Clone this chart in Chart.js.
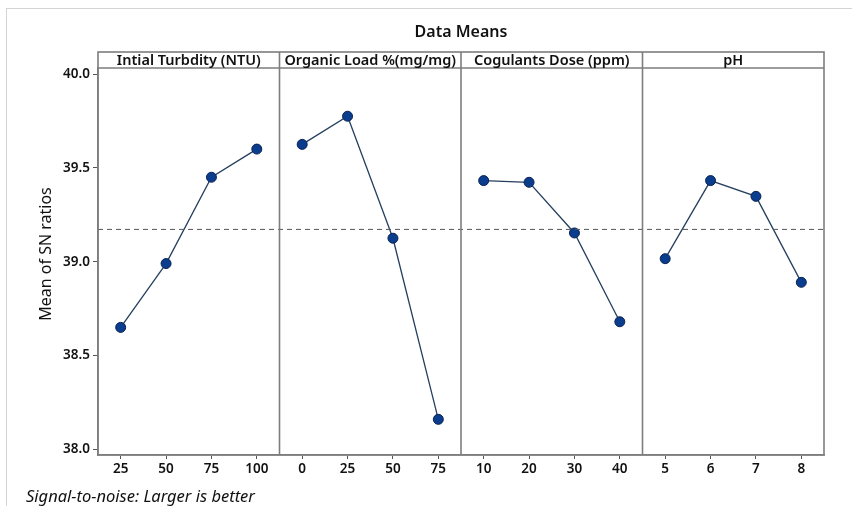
<!DOCTYPE html>
<html>
<head>
<meta charset="utf-8">
<script src="https://cdn.jsdelivr.net/npm/chart.js@4.4.0/dist/chart.umd.min.js"></script>
<style>
  html, body { margin: 0; padding: 0; background: #fff; }
  #wrap { position: relative; width: 852px; height: 506px; }
</style>
</head>
<body>
<div id="wrap"><canvas id="meansChart" width="852" height="506"></canvas></div>
<script>
// factor names and their levels
var factorNames = ['Intial Turbdity (NTU)', 'Organic Load %(mg/mg)', 'Cogulants Dose (ppm)', 'pH'];
var turbidityLevels = ['25', '50', '75', '100'];
var organicLevels = ['0', '25', '50', '75'];
var doseLevels = ['10', '20', '30', '40'];
var phLevels = ['5', '6', '7', '8'];

// mean of SN ratios for each level
var turbiditySN = [38.65, 38.99, 39.45, 39.60];
var organicSN = [39.625, 39.775, 39.125, 38.16];
var doseSN = [39.432, 39.423, 39.153, 38.68];
var phSN = [39.016, 39.432, 39.348, 38.89];

var overallMean = 39.172;
var yTicks = [38.0, 38.5, 39.0, 39.5, 40.0];

var levelGroups = [turbidityLevels, organicLevels, doseLevels, phLevels];
var snGroups = [turbiditySN, organicSN, doseSN, phSN];

// one category axis with 16 slots, 4 per panel
var xLabels = [];
levelGroups.forEach(function (g) { xLabels = xLabels.concat(g); });

var datasets = snGroups.map(function (vals, gi) {
  var data = [];
  for (var i = 0; i < xLabels.length; i++) data.push(null);
  vals.forEach(function (v, j) { data[gi * 4 + j] = v; });
  return {
    label: factorNames[gi],
    data: data,
    borderColor: '#253f5f',
    borderWidth: 1.3,
    pointRadius: 5,
    pointBackgroundColor: '#0b3d8f',
    pointBorderColor: '#0a2352',
    pointBorderWidth: 1,
    spanGaps: false,
    tension: 0
  };
});

// draws frame, panel strips, dashed mean line and the extra texts
var panelPlugin = {
  id: 'panels',
  beforeDraw: function (chart) {
    var ctx = chart.ctx;
    ctx.save();
    ctx.fillStyle = '#fff';
    ctx.fillRect(0, 0, chart.width, chart.height);
    ctx.strokeStyle = '#d4d4d4';
    ctx.lineWidth = 1;
    ctx.strokeRect(6.5, 8.5, 1000, 1000);
    ctx.restore();
  },
  afterDatasetsDraw: function (chart) {
    var ctx = chart.ctx;
    var a = chart.chartArea;
    var xs = chart.scales.x;
    var ys = chart.scales.y;
    var stripTop = a.top - 16;
    ctx.save();

    // dashed overall mean
    var my = ys.getPixelForValue(overallMean);
    ctx.strokeStyle = '#555';
    ctx.lineWidth = 1;
    ctx.setLineDash([5, 4]);
    ctx.beginPath();
    ctx.moveTo(a.left, my);
    ctx.lineTo(a.right, my);
    ctx.stroke();
    ctx.setLineDash([]);

    // frame + strip
    ctx.strokeStyle = '#7d7d7d';
    ctx.lineWidth = 1.6;
    ctx.strokeRect(a.left, stripTop, a.right - a.left, a.bottom - stripTop);
    ctx.beginPath();
    ctx.moveTo(a.left, a.top);
    ctx.lineTo(a.right, a.top);
    ctx.stroke();

    // panel separators
    for (var p = 1; p < 4; p++) {
      var sx = (xs.getPixelForValue(p * 4 - 1) + xs.getPixelForValue(p * 4)) / 2;
      ctx.beginPath();
      ctx.moveTo(sx, stripTop);
      ctx.lineTo(sx, a.bottom);
      ctx.stroke();
    }

    // panel headers
    ctx.fillStyle = '#111';
    ctx.font = '600 14.5px "Noto Sans"';
    ctx.textAlign = 'center';
    ctx.textBaseline = 'middle';
    factorNames.forEach(function (name, i) {
      var cx = (xs.getPixelForValue(i * 4 + 1) + xs.getPixelForValue(i * 4 + 2)) / 2;
      ctx.fillText(name, cx, stripTop + 8.5);
    });

    // title
    ctx.font = '600 16px "Noto Sans"';
    ctx.fillText('Data Means', (a.left + a.right) / 2, 32);

    // y title
    ctx.save();
    ctx.translate(46, 254);
    ctx.rotate(-Math.PI / 2);
    ctx.font = '16px "Noto Sans"';
    ctx.fillText('Mean of SN ratios', 0, 0);
    ctx.restore();

    // footnote
    ctx.textAlign = 'left';
    ctx.font = 'italic 16.5px "Noto Sans"';
    ctx.fillText('Signal-to-noise: Larger is better', 26, 497);
    ctx.restore();
  }
};

var ctx = document.getElementById('meansChart').getContext('2d');
var meansChart = new Chart(ctx, {
  type: 'line',
  data: { labels: xLabels, datasets: datasets },
  options: {
    responsive: false,
    animation: false,
    layout: { padding: { left: 35, right: 28, top: 68, bottom: 0 } },
    plugins: {
      legend: { display: false },
      tooltip: { enabled: false }
    },
    scales: {
      x: {
        type: 'category',
        offset: true,
        afterFit: function (scale) { scale.height = 51; },
        grid: { drawOnChartArea: false, drawTicks: true, tickLength: 4, color: '#555', offset: false },
        border: { display: true, color: '#7d7d7d', width: 1.6 },
        ticks: { color: '#111', font: { family: 'Noto Sans', size: 13.5, weight: '600' }, padding: 2, maxRotation: 0, autoSkip: false }
      },
      y: {
        min: 37.97,
        max: 40.032,
        afterFit: function (scale) { scale.width = 63; },
        afterBuildTicks: function (scale) {
          scale.ticks = yTicks.map(function (v) { return { value: v }; });
        },
        grid: { drawOnChartArea: false, drawTicks: true, tickLength: 5, color: '#555' },
        border: { display: true, color: '#7d7d7d', width: 1.6 },
        ticks: {
          color: '#111',
          font: { family: 'Noto Sans', size: 13.5, weight: '600' },
          padding: 3,
          callback: function (v) { return Number(v).toFixed(1); }
        }
      }
    }
  },
  plugins: [panelPlugin]
});
</script>
</body>
</html>
